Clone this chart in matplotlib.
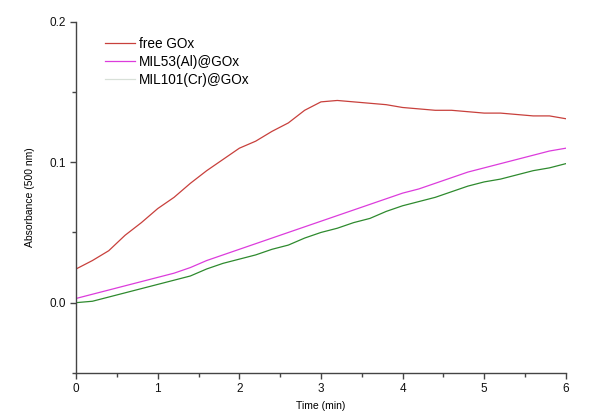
import numpy as np
import matplotlib
matplotlib.use("Agg")
import matplotlib.pyplot as plt
from matplotlib.ticker import MultipleLocator

plt.rcParams['font.family'] = ['Liberation Sans', 'DejaVu Sans']

# time axis (min)
t = [0.0, 0.2, 0.4, 0.6, 0.8, 1.0, 1.2, 1.4, 1.6, 1.8, 2.0, 2.2, 2.4, 2.6, 2.8, 3.0,
     3.2, 3.4, 3.6, 3.8, 4.0, 4.2, 4.4, 4.6, 4.8, 5.0, 5.2, 5.4, 5.6, 5.8, 6.0]

free_gox = [0.024, 0.030, 0.037, 0.048, 0.057, 0.067, 0.075, 0.085, 0.094, 0.102, 0.110,
            0.115, 0.122, 0.128, 0.137, 0.143, 0.144, 0.143, 0.142, 0.141, 0.139,
            0.138, 0.137, 0.137, 0.136, 0.135, 0.135, 0.134, 0.133, 0.133, 0.131]
mil53 = [0.003, 0.006, 0.009, 0.012, 0.015, 0.018, 0.021, 0.025, 0.030, 0.034, 0.038,
         0.042, 0.046, 0.050, 0.054, 0.058, 0.062, 0.066, 0.070, 0.074, 0.078,
         0.081, 0.085, 0.089, 0.093, 0.096, 0.099, 0.102, 0.105, 0.108, 0.110]
mil101 = [0.000, 0.001, 0.004, 0.007, 0.010, 0.013, 0.016, 0.019, 0.024, 0.028, 0.031,
          0.034, 0.038, 0.041, 0.046, 0.050, 0.053, 0.057, 0.060, 0.065, 0.069,
          0.072, 0.075, 0.079, 0.083, 0.086, 0.088, 0.091, 0.094, 0.096, 0.099]

fig = plt.figure(figsize=(5.9, 4.12), dpi=100)
ax = fig.add_axes([0.129, 0.095, 0.830, 0.852])

ax.plot(t, free_gox, color='#c8403c', lw=0.9, label='free GOx')
ax.plot(t, mil53, color='#dc3cdc', lw=0.9, label='MIL53(Al)@GOx')
ax.plot(t, mil101, color='#2e8a2e', lw=0.9, label='MIL101(Cr)@GOx')

ax.set_xlim(0, 6)
ax.set_ylim(-0.05, 0.2)
ax.xaxis.set_major_locator(MultipleLocator(1))
ax.xaxis.set_minor_locator(MultipleLocator(0.5))
ax.yaxis.set_major_locator(MultipleLocator(0.1))
ax.yaxis.set_minor_locator(MultipleLocator(0.05))
ax.yaxis.set_major_formatter(matplotlib.ticker.FormatStrFormatter('%.1f'))

for s in ['top', 'right']:
    ax.spines[s].set_visible(False)
for s in ['left', 'bottom']:
    ax.spines[s].set_color('#444444')
    ax.spines[s].set_linewidth(1.0)
ax.tick_params(which='major', direction='out', length=4, width=1, color='#444444',
               labelsize=8.5, labelcolor='#111111')
ax.tick_params(which='minor', direction='out', length=3, width=1, color='#444444')

ax.set_xlabel('Time (min)', fontsize=7.5, labelpad=4)
ax.set_ylabel('Absorbance (500 nm)', fontsize=7.5, labelpad=10)

leg = ax.legend(loc='upper left', bbox_to_anchor=(0.059, 0.957), frameon=False,
                borderpad=0, borderaxespad=0,
                fontsize=9.8, handlelength=2.2, handletextpad=0.3, labelspacing=0.3)
leg.get_lines()[2].set_color('#d8e0d8')

fig.savefig('out.png', dpi=100)
